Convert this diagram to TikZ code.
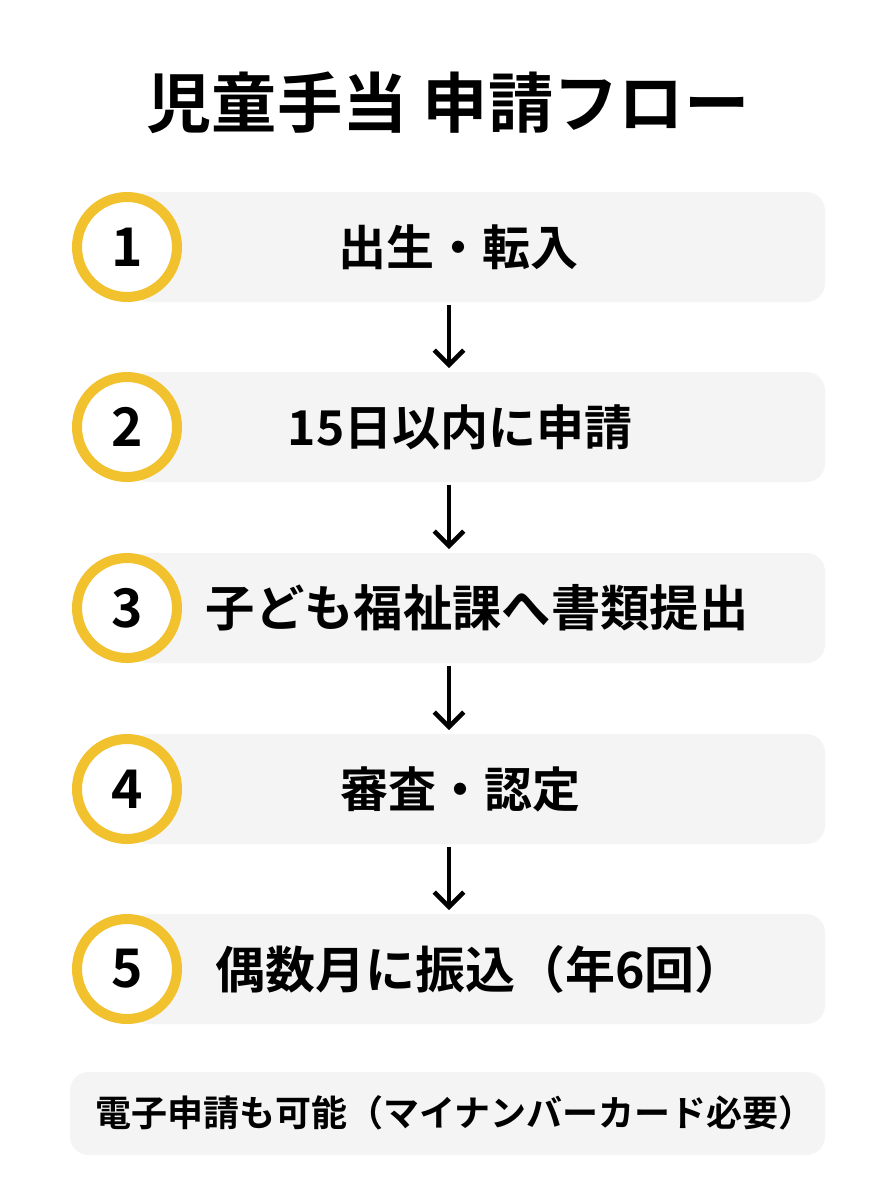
\documentclass[tikz,border=0pt]{standalone}
\usepackage{fontspec}
\setmainfont{Noto Sans CJK JP}[BoldFont={* Bold}]
\usetikzlibrary{arrows.meta}
\definecolor{stepgray}{HTML}{F4F4F4}
\definecolor{ringyellow}{HTML}{F2C12E}
\tikzset{
  stepbox/.style={fill=stepgray, rounded corners=14pt, draw=none},
  ring/.style={circle, draw=ringyellow, line width=7.5pt, fill=white, minimum size=75pt, inner sep=0pt, font=\fontsize{40}{40}\bfseries\selectfont},
  steplabel/.style={font=\fontsize{36}{36}\bfseries\selectfont},
  flow/.style={-{Straight Barb[length=11pt,width=22pt]}, line width=3.4pt}
}
\begin{document}
\begin{tikzpicture}[x=0.75pt, y=-0.75pt]
	\useasboundingbox[fill=white] (0,0) rectangle (896,1200);
	\node[font=\fontsize{49}{49}\bfseries\selectfont] (title) at (448,103) {児童手当 申請フロー};

	\fill[stepbox] (130,192) rectangle (825,302);
	\fill[stepbox] (130,372) rectangle (825,482);
	\fill[stepbox] (130,553) rectangle (825,663);
	\fill[stepbox] (130,734) rectangle (825,844);
	\fill[stepbox] (130,914) rectangle (825,1024);

	\node[ring] (c1) at (127,247) {1};
	\node[ring] (c2) at (127,427) {2};
	\node[ring] (c3) at (127,608) {3};
	\node[ring] (c4) at (127,789) {4};
	\node[ring] (c5) at (127,969) {5};

	\node[steplabel] (s1) at (458,247) {出生・転入};
	\node[steplabel] (s2) at (460,427) {15日以内に申請};
	\node[steplabel, font=\fontsize{37}{37}\bfseries\selectfont] (s3) at (477,608) {子ども福祉課へ書類提出};
	\node[steplabel] (s4) at (460,789) {審査・認定};
	\node[steplabel, font=\fontsize{37.5}{37.5}\bfseries\selectfont] (s5) at (480,969) {偶数月に振込（年6回）};

	\coordinate (a1) at (449,305); \coordinate (b1) at (449,368);
	\coordinate (a2) at (449,485); \coordinate (b2) at (449,549);
	\coordinate (a3) at (449,666); \coordinate (b3) at (449,730);
	\coordinate (a4) at (449,847); \coordinate (b4) at (449,910);
	\draw[flow] (a1) -- (b1);
	\draw[flow] (a2) -- (b2);
	\draw[flow] (a3) -- (b3);
	\draw[flow] (a4) -- (b4);

	\fill[stepbox] (70,1072) rectangle (825,1155);
	\node[font=\fontsize{27}{27}\bfseries\selectfont] (note) at (455,1113) {電子申請も可能（マイナンバーカード必要）};
\end{tikzpicture}
\end{document}
